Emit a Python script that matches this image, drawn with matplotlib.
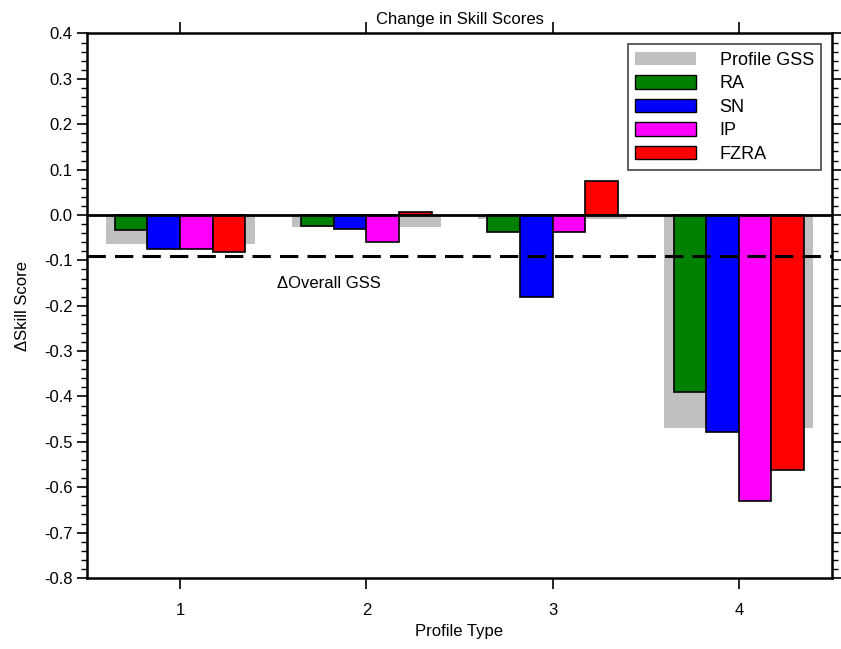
import numpy as np
import matplotlib.pyplot as plt
from matplotlib.ticker import MultipleLocator
from matplotlib.patches import Patch

plt.rcParams['font.family'] = ['Liberation Sans', 'DejaVu Sans']

# data
profile_type = [1, 2, 3, 4]
profile_gss = [-0.064, -0.026, -0.008, -0.470]
ra = [-0.033, -0.025, -0.038, -0.389]
sn = [-0.076, -0.030, -0.180, -0.479]
ip = [-0.075, -0.060, -0.038, -0.631]
fzra = [-0.081, 0.007, 0.075, -0.562]
overall_gss = -0.09

series = [("RA", ra, "#008000"), ("SN", sn, "#0000ff"),
          ("IP", ip, "#ff00ff"), ("FZRA", fzra, "#ff0000")]

fig = plt.figure(figsize=(8.41, 6.49), dpi=100)
ax = fig.add_axes([0.1034, 0.1094, 0.8859, 0.839])

x = np.array(profile_type, dtype=float)
ax.bar(x, profile_gss, width=0.8, color="#c0c0c0", edgecolor="none", zorder=1)
w = 0.175
for i, (name, vals, col) in enumerate(series):
    ax.bar(x + (i - 1.5) * w, vals, width=w, color=col, edgecolor="black",
           linewidth=1.2, zorder=2)

ax.axhline(0, color="black", lw=2, zorder=3)
ax.axhline(overall_gss, color="black", lw=2.2, ls=(0, (6, 3)), zorder=3)
ax.text(1.52, -0.15, "\u0394Overall GSS", fontsize=12, va="center", ha="left")

ax.set_xlim(0.5, 4.5)
ax.set_ylim(-0.8, 0.4)
ax.set_xticks(profile_type)
ax.yaxis.set_major_locator(MultipleLocator(0.1))
ax.yaxis.set_minor_locator(MultipleLocator(0.02))
ax.set_yticklabels([f"{v:.1f}" for v in ax.get_yticks()])
ax.tick_params(axis="y", which="both", right=True, direction="out", labelsize=12)
ax.tick_params(axis="y", which="major", length=7, width=1.2)
ax.tick_params(axis="y", which="minor", length=4, width=1.0)
ax.tick_params(axis="x", top=True, direction="out", length=8, width=1.2, labelsize=12, pad=10)
for s in ax.spines.values():
    s.set_linewidth(1.8)

ax.set_xlabel("Profile Type", fontsize=12)
ax.set_ylabel("\u0394Skill Score", fontsize=12, labelpad=10)
ax.set_title("Change in Skill Scores", fontsize=12, pad=7)

handles = [Patch(facecolor="#c0c0c0", edgecolor="none", label="Profile GSS")]
handles += [Patch(facecolor=c, edgecolor="black", label=n) for n, v, c in series]
leg = ax.legend(handles=handles, loc="upper right", fontsize=13, fancybox=False,
                edgecolor="#444444", framealpha=1, handlelength=3.4, handleheight=0.8,
                borderaxespad=0.6, labelspacing=0.35, handletextpad=1.3)
leg.get_frame().set_linewidth(1.2)

fig.savefig("out.png", dpi=100)
